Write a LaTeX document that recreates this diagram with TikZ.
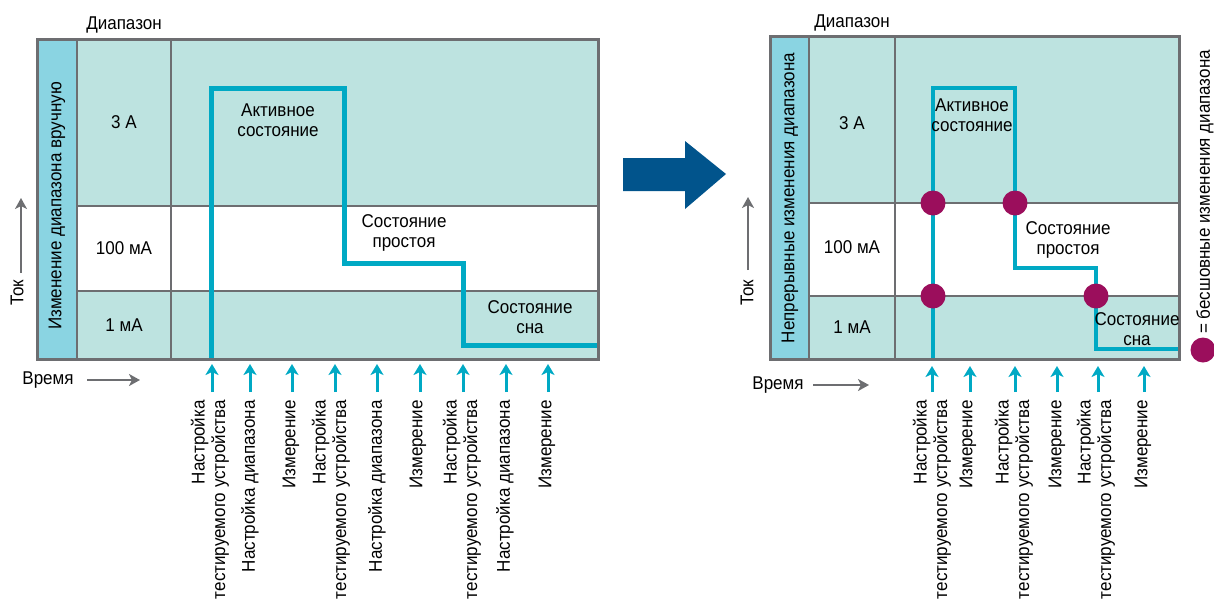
\documentclass[tikz,border=0pt]{standalone}
\usepackage{fontspec}
\setmainfont{Liberation Sans}[FakeStretch=0.92]
\usetikzlibrary{arrows.meta}
\definecolor{tealfill}{RGB}{189,227,224}
\definecolor{stripfill}{RGB}{138,212,226}
\definecolor{curr}{RGB}{0,169,196}
\definecolor{framegray}{RGB}{109,110,113}
\definecolor{dotcol}{RGB}{155,14,92}
\definecolor{bigblue}{RGB}{1,84,140}
\begin{document}
\begin{tikzpicture}[x=1pt,y=-1pt,
  font=\fontsize{18.5}{20}\selectfont,
  txt/.style={inner sep=0pt,align=center},
  rlbl/.style={inner sep=0pt,rotate=90,anchor=east,align=right,font=\fontsize{18.5}{20.5}\selectfont},
  gridln/.style={draw=framegray,line width=2.5pt},
  frameln/.style={draw=framegray,line width=3pt},
  currln/.style={draw=curr,line width=5pt,line join=miter},
  tarrow/.style={draw=curr,line width=3pt,-{Stealth[length=11pt,width=13pt,inset=3pt]}},
  garrow/.style={draw=framegray,line width=2.2pt,-{Stealth[length=11pt,width=12pt,inset=3pt]}},
  seam/.style={fill=dotcol,draw=none,circle,minimum size=25pt,inner sep=0pt}]
\useasboundingbox (0,0) rectangle (1214,606);

% ================= LEFT PANEL =================
\fill[stripfill] (37,39) rectangle (77,359);
\fill[tealfill] (77,39) rectangle (598,206);
\fill[white] (77,206) rectangle (598,291);
\fill[tealfill] (77,291) rectangle (598,359);
\draw[gridln] (77,39) -- (77,359);
\draw[gridln] (171,39) -- (171,359);
\draw[gridln] (77,206) -- (598,206);
\draw[gridln] (77,291) -- (598,291);
\draw[currln] (211,359) -- (211,88) -- (344,88) -- (344,263) -- (463,263) -- (463,345) -- (598,345);
\draw[frameln] (37,39) rectangle (598,359);

\node[txt] (lrange) at (124,25) {Диапазон};
\node[txt] (l3a) at (124,122) {3 А};
\node[txt] (l100) at (124,248) {100 мА};
\node[txt] (l1) at (124,325) {1 мА};
\node[txt,rotate=90] (lstrip) at (57,206) {Изменение диапазона вручную};
\node[txt] (lact) at (278,120) {Активное\\состояние};
\node[txt] (lidle) at (404,233) {Состояние\\простоя};
\node[txt] (lsleep) at (530,317) {Состояние\\сна};

\node[txt,rotate=90] (ltok) at (17,293) {Ток};
\coordinate (ltokA) at (21,273); \coordinate (ltokB) at (21,198);
\draw[garrow] (ltokA) -- (ltokB);
\node[txt] (ltime) at (48,380) {Время};
\coordinate (ltimeA) at (87,380); \coordinate (ltimeB) at (140,380);
\draw[garrow] (ltimeA) -- (ltimeB);

\foreach \x [count=\i] in {212,250,292,335,377,420,463,506,548} {
  \coordinate (la\i) at (\x,392); \coordinate (lb\i) at (\x,364);
  \draw[tarrow] (la\i) -- (lb\i);
}
\node[rlbl] (lt1) at (210,400) {Настройка\\тестируемого устройства};
\node[rlbl] (lt2) at (250,400) {Настройка диапазона};
\node[rlbl] (lt3) at (291,400) {Измерение};
\node[rlbl] (lt4) at (331,400) {Настройка\\тестируемого устройства};
\node[rlbl] (lt5) at (377,400) {Настройка диапазона};
\node[rlbl] (lt6) at (418,400) {Измерение};
\node[rlbl] (lt7) at (462,400) {Настройка\\тестируемого устройства};
\node[rlbl] (lt8) at (505,400) {Настройка диапазона};
\node[rlbl] (lt9) at (547,400) {Измерение};

% ================= BIG ARROW =================
\fill[bigblue] (623,158) -- (685,158) -- (685,141) -- (726,174) -- (685,209) -- (685,191) -- (623,191) -- cycle;

% ================= RIGHT PANEL =================
\fill[stripfill] (770,36) rectangle (809,359);
\fill[tealfill] (809,36) rectangle (1179,203);
\fill[white] (809,203) rectangle (1179,296);
\fill[tealfill] (809,296) rectangle (1179,359);
\draw[gridln] (809,36) -- (809,359);
\draw[gridln] (895,36) -- (895,359);
\draw[gridln] (809,203) -- (1179,203);
\draw[gridln] (809,296) -- (1179,296);
\draw[currln,line width=4.5pt] (933,359) -- (933,88) -- (1015,88) -- (1015,268) -- (1096,268) -- (1096,349) -- (1179,349);
\draw[frameln] (770,36) rectangle (1179,359);

\node[seam] (d1) at (933,203) {};
\node[seam] (d2) at (1015,203) {};
\node[seam] (d3) at (933,296) {};
\node[seam] (d4) at (1096,296) {};

\node[txt] (rrange) at (852,23) {Диапазон};
\node[txt] (r3a) at (852,123) {3 А};
\node[txt] (r100) at (852,247) {100 мА};
\node[txt] (r1) at (852,327) {1 мА};
\node[txt,rotate=90] (rstrip) at (790,198) {Непрерывные изменения диапазона};
\node[txt] (ract) at (972,115) {Активное\\состояние};
\node[txt] (ridle) at (1068,240) {Состояние\\простоя};
\node[txt] (rsleep) at (1137,329) {Состояние\\сна};

\node[txt,rotate=90] (rtok) at (747,293) {Ток};
\coordinate (rtokA) at (748,270); \coordinate (rtokB) at (748,197);
\draw[garrow] (rtokA) -- (rtokB);
\node[txt] (rtime) at (778,385) {Время};
\coordinate (rtimeA) at (813,385); \coordinate (rtimeB) at (869,385);
\draw[garrow] (rtimeA) -- (rtimeB);

\foreach \x [count=\i] in {932,970,1015,1057,1098,1144} {
  \coordinate (ra\i) at (\x,392); \coordinate (rb\i) at (\x,366);
  \draw[tarrow] (ra\i) -- (rb\i);
}
\node[rlbl] (rt1) at (932,400) {Настройка\\тестируемого устройства};
\node[rlbl] (rt2) at (968,400) {Измерение};
\node[rlbl] (rt3) at (1014,400) {Настройка\\тестируемого устройства};
\node[rlbl] (rt4) at (1057,400) {Измерение};
\node[rlbl] (rt5) at (1096,400) {Настройка\\тестируемого устройства};
\node[rlbl] (rt6) at (1143,400) {Измерение};

% legend
\node[seam] (leg) at (1203,350) {};
\node[txt,rotate=90,anchor=west] (legtxt) at (1205,334) {= бесшовные изменения диапазона};
\end{tikzpicture}
\end{document}
